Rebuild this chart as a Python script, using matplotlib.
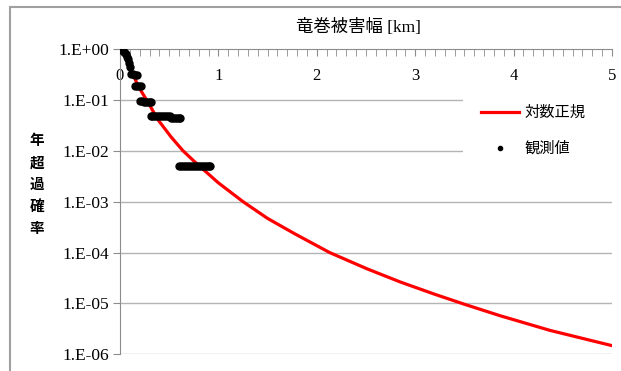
import matplotlib
matplotlib.use("Agg")
import matplotlib.pyplot as plt
from matplotlib.patches import Rectangle
from matplotlib.lines import Line2D
from matplotlib.ticker import MultipleLocator, FixedLocator

# 対数正規
fit_x = [0.0, 0.03, 0.06, 0.10, 0.15, 0.20, 0.27, 0.386, 0.52, 0.64, 0.75, 0.86,
         1.0, 1.25, 1.5, 1.775, 2.13, 2.51, 2.85, 3.2, 3.49, 3.86, 4.37, 5.0]
fit_y = [1.0, 0.891, 0.676, 0.437, 0.263, 0.166, 0.1, 0.0407, 0.0186, 0.01, 0.00631, 0.00407,
         0.00234, 1.0e-3, 4.68e-4, 2.34e-4, 1.0e-4, 4.79e-5, 2.63e-5, 1.51e-5, 9.77e-6,
         5.75e-6, 2.95e-6, 1.48e-6]

# 観測値
obs_x = [0.00, 0.01, 0.02, 0.03, 0.04, 0.05, 0.06, 0.07, 0.08, 0.09, 0.10,
         0.11, 0.13, 0.15, 0.17,
         0.15, 0.17, 0.19, 0.21,
         0.20, 0.22, 0.24, 0.26, 0.28, 0.30, 0.32,
         0.31, 0.33, 0.35, 0.37, 0.39, 0.41, 0.43, 0.45, 0.47, 0.49, 0.505,
         0.52, 0.54, 0.56, 0.58, 0.60, 0.61,
         0.60, 0.62, 0.64, 0.66, 0.68, 0.70, 0.72, 0.74, 0.76, 0.78, 0.80,
         0.82, 0.84, 0.86, 0.88, 0.90, 0.91]
obs_y = [1.0, 0.98, 0.95, 0.93, 0.89, 0.83, 0.78, 0.71, 0.63, 0.54, 0.45,
         0.32, 0.32, 0.315, 0.31,
         0.19, 0.19, 0.188, 0.186,
         0.094, 0.093, 0.092, 0.092, 0.091, 0.090, 0.089,
         0.049, 0.049, 0.049, 0.049, 0.049, 0.049, 0.049, 0.049, 0.049, 0.049, 0.049,
         0.0435, 0.0435, 0.0435, 0.0435, 0.0435, 0.0435,
         0.0051, 0.0051, 0.0051, 0.0051, 0.0051, 0.0051, 0.0051, 0.0051, 0.0051, 0.0051, 0.0051,
         0.0051, 0.0051, 0.0051, 0.0051, 0.0051, 0.0051]

ytick_vals = [1e0, 1e-1, 1e-2, 1e-3, 1e-4, 1e-5, 1e-6]
ytick_labels = ["1.E+00", "1.E-01", "1.E-02", "1.E-03", "1.E-04", "1.E-05", "1.E-06"]

jp = ["Noto Sans CJK JP", "DejaVu Sans"]
mixed = ["Liberation Serif", "Noto Sans CJK JP"]
num = "Liberation Serif"

W, H = 621, 371
fig = plt.figure(figsize=(W / 100, H / 100), dpi=100)
fig.patches.append(Rectangle((10 / W, -0.1), 1.2, 1 - 7 / H + 0.1, transform=fig.transFigure,
                             fill=False, edgecolor="#a0a0a0", linewidth=1.5))

ax = fig.add_axes([120 / W, 1 - 354.3 / H, (612 - 120) / W, (354.3 - 49) / H])
ax.set_yscale("log")
ax.set_xlim(0, 5)
ax.set_ylim(1e-6, 1)

for v in ytick_vals[1:]:
    ax.axhline(v, color="#b4b4b4", linewidth=1.0, zorder=0)

# white area behind the legend, hides the grid lines there
ax.add_patch(Rectangle((463 / W, 1 - 172 / H), 160 / W, 80 / H, transform=fig.transFigure,
                       facecolor="white", edgecolor="none", zorder=0.5, clip_on=False))

ax.plot(fit_x, fit_y, color="red", linewidth=2.3, zorder=2)
ax.plot(obs_x, obs_y, linestyle="none", marker="o", markersize=5, color="black", zorder=3)

ax.spines["bottom"].set_visible(False)
ax.spines["right"].set_visible(False)
ax.spines["top"].set_color("#8c8c8c")
ax.spines["left"].set_color("#8c8c8c")

ax.xaxis.tick_top()
ax.xaxis.set_major_locator(MultipleLocator(1))
ax.xaxis.set_minor_locator(MultipleLocator(0.1))
ax.tick_params(axis="x", which="both", direction="in", length=5, color="#8c8c8c", pad=-25)
ax.tick_params(axis="x", which="major", labelsize=12)
for lab in ax.get_xticklabels():
    lab.set_fontfamily(num)

ax.yaxis.set_minor_locator(FixedLocator([]))
ax.set_yticks(ytick_vals)
ax.set_yticklabels(ytick_labels, fontfamily=num, fontsize=12.5)
ax.tick_params(axis="y", which="major", direction="out", length=5, color="#8c8c8c", pad=3)

fig.text(358 / W, 1 - 28 / H, "竜巻被害幅 [km]", family=mixed, fontsize=12.5,
         ha="center", va="center")
fig.text(37 / W, 1 - 184 / H, "\n".join("年超過確率"), family=jp, fontsize=10.5,
         ha="center", va="center", linespacing=1.45, fontweight="bold")

handles = [Line2D([], [], color="red", linewidth=2.3),
           Line2D([], [], linestyle="none", marker="o", markersize=3, color="black")]
leg = ax.legend(handles, ["対数正規", "観測値"], loc="upper left",
                bbox_to_anchor=(481 / W, 1 - 104 / H), bbox_transform=fig.transFigure,
                prop={"family": jp, "size": 11}, frameon=False,
                handlelength=2.5, handletextpad=0.35, labelspacing=1.25,
                borderpad=0, borderaxespad=0)

fig.savefig("out.png", dpi=100)
